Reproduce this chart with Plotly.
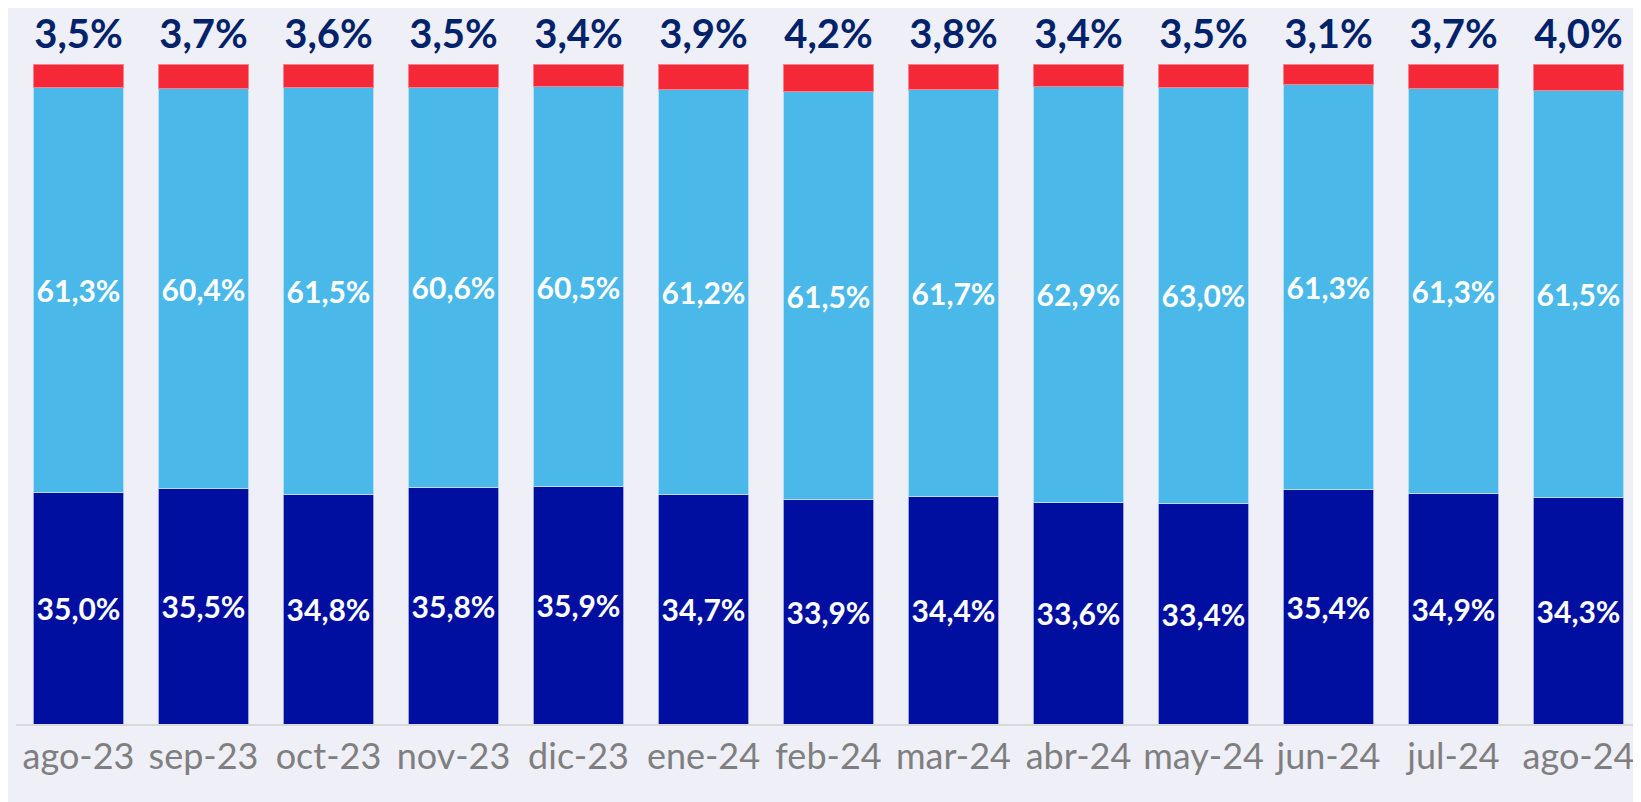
import plotly.graph_objects as go

months = ["ago-23", "sep-23", "oct-23", "nov-23", "dic-23", "ene-24", "feb-24",
          "mar-24", "abr-24", "may-24", "jun-24", "jul-24", "ago-24"]
dark = [35.0, 35.5, 34.8, 35.8, 35.9, 34.7, 33.9, 34.4, 33.6, 33.4, 35.4, 34.9, 34.3]
light = [61.3, 60.4, 61.5, 60.6, 60.5, 61.2, 61.5, 61.7, 62.9, 63.0, 61.3, 61.3, 61.5]
red = [3.5, 3.7, 3.6, 3.5, 3.4, 3.9, 4.2, 3.8, 3.4, 3.5, 3.1, 3.7, 4.0]

def fmt(v):
    return f"{v:.1f}%".replace(".", ",")

FONT = "Century Gothic, Lato, sans-serif"
BG = "#EFEFF8"

fig = go.Figure()
fig.add_bar(x=months, y=dark, marker=dict(color="#000FA0", line=dict(color="#9AA3E0", width=1)),
            text=[fmt(v) for v in dark], textposition="inside", insidetextanchor="middle",
            textangle=0, textfont=dict(family=FONT, size=30, color="white", weight="bold"))
fig.add_bar(x=months, y=light, marker=dict(color="#4AB8E8", line=dict(color="#B5DDF3", width=1)),
            text=[fmt(v) for v in light], textposition="inside", insidetextanchor="middle",
            textangle=0, textfont=dict(family=FONT, size=30, color="white", weight="bold"))
fig.add_bar(x=months, y=red, marker=dict(color="#F42837", line=dict(color="#F8838C", width=1)))

# top labels (red share), placed above the 100% stack top
fig.add_scatter(x=months, y=[100] * len(months), mode="markers+text", text=[fmt(v) for v in red],
                marker=dict(size=8, color="rgba(0,0,0,0)"),
                textposition="top center", cliponaxis=False, hoverinfo="skip",
                textfont=dict(family=FONT, size=40, color="#00226A", weight="bold"))

fig.update_layout(
    width=1641, height=802,
    barmode="stack", barnorm="percent", bargap=0.28,
    paper_bgcolor=BG, plot_bgcolor=BG,
    margin=dict(l=8, r=8, t=56, b=86),
    showlegend=False,
    uniformtext=dict(minsize=20, mode="show"),
    xaxis=dict(showgrid=False, showline=True, linecolor="#D9D9D9", linewidth=2,
               range=[-0.5, len(months) - 0.5],
               tickfont=dict(family=FONT, size=36, color="#7F7F7F"), ticks="",
               ticklabelstandoff=0),
    yaxis=dict(range=[0, 100], visible=False, showgrid=False),
)

fig.write_html("out.html")
